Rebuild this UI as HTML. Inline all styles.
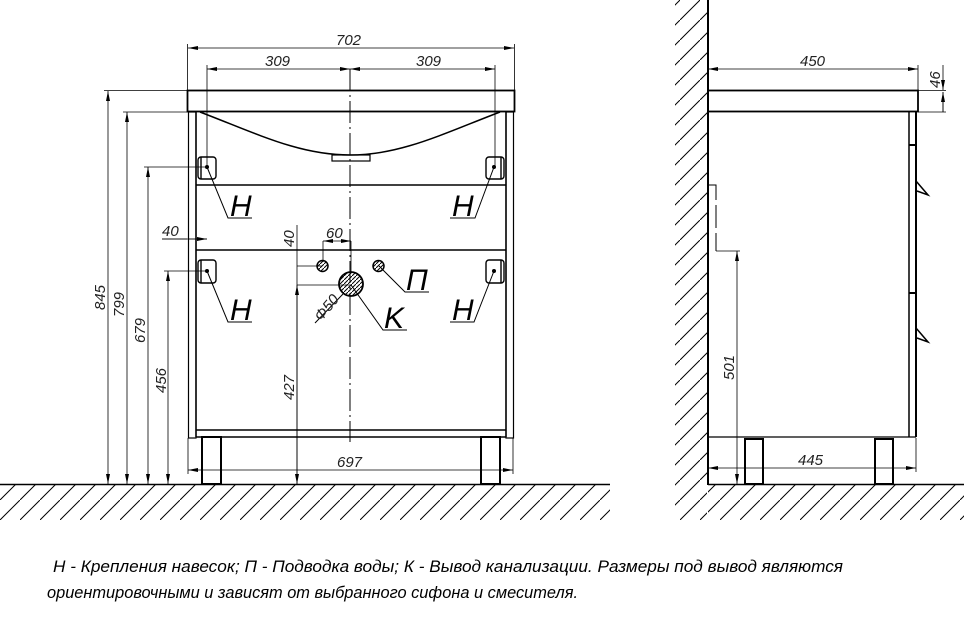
<!DOCTYPE html>
<html><head><meta charset="utf-8"><style>
html,body{margin:0;padding:0;background:#fff;width:964px;height:623px;overflow:hidden}
svg{display:block}
.t{font-family:"Liberation Sans",sans-serif;font-style:italic;font-size:15px;fill:#222}
.L{font-family:"Liberation Sans",sans-serif;font-style:italic;font-size:30px;fill:#000}
</style></head><body>
<svg width="964" height="623" viewBox="0 0 964 623" xmlns="http://www.w3.org/2000/svg">
<defs>
<pattern id="h" width="20" height="20" patternUnits="userSpaceOnUse">
<line x1="-2" y1="22" x2="22" y2="-2" stroke="#000" stroke-width="1"/>
</pattern>
<pattern id="hs" width="4" height="4" patternUnits="userSpaceOnUse">
<line x1="0" y1="4" x2="4" y2="0" stroke="#000" stroke-width="1"/>
</pattern>
<marker id="a" viewBox="0 0 10 4" refX="10" refY="2" markerWidth="10" markerHeight="4" orient="auto-start-reverse" markerUnits="userSpaceOnUse"><path d="M0,0 L10,2 L0,4z" fill="#000"/></marker>
</defs>
<g fill="none" stroke="#000">
<!-- floor hatch front -->
<rect x="0" y="485" width="610" height="35" fill="url(#h)" stroke="none"/>
<line x1="0" y1="484.5" x2="610" y2="484.5" stroke-width="1.5"/>
<!-- side floor + wall -->
<rect x="708" y="485" width="256" height="35" fill="url(#h)" stroke="none"/>
<rect x="675" y="0" width="32" height="520" fill="url(#h)" stroke="none"/>
<line x1="708" y1="484.5" x2="964" y2="484.5" stroke-width="1.5"/>
<line x1="708" y1="0" x2="708" y2="485" stroke-width="2"/>

<!-- FRONT VIEW -->
<rect x="187.5" y="90.5" width="327" height="21" stroke-width="1.8"/>
<rect x="188.5" y="112" width="7.5" height="326" stroke-width="1.2"/>
<rect x="506" y="112" width="7.5" height="326" stroke-width="1.2"/>
<line x1="196" y1="112" x2="196" y2="437" stroke-width="1.5"/>
<line x1="506" y1="112" x2="506" y2="437" stroke-width="1.5"/>
<line x1="196" y1="185" x2="506" y2="185" stroke-width="1.5"/>
<line x1="196" y1="250" x2="506" y2="250" stroke-width="1.5"/>
<line x1="196" y1="430" x2="506" y2="430" stroke-width="1.5"/>
<line x1="196" y1="437" x2="506" y2="437" stroke-width="1.5"/>
<path d="M200,112 C260,135 300,155 350,155 C400,155 440,135 500,112" stroke-width="1.5"/>
<rect x="332" y="155" width="38" height="6" stroke-width="1.2"/>
<rect x="202" y="437" width="19" height="47" stroke-width="2"/>
<rect x="481" y="437" width="19" height="47" stroke-width="2"/>
<!-- hangers -->
<g stroke-width="1.4">
<rect x="198" y="157" width="18" height="22" rx="3"/><line x1="201" y1="157" x2="201" y2="179"/>
<rect x="486" y="157" width="18" height="22" rx="3"/><line x1="501" y1="157" x2="501" y2="179"/>
<rect x="198" y="260" width="18" height="23" rx="3"/><line x1="201" y1="260" x2="201" y2="283"/>
<rect x="486" y="260" width="18" height="23" rx="3"/><line x1="501" y1="260" x2="501" y2="283"/>
</g>
<g fill="#000" stroke="none">
<circle cx="207" cy="167" r="2"/><circle cx="494" cy="167" r="2"/>
<circle cx="207" cy="271" r="2"/><circle cx="494" cy="271" r="2"/>
</g>
<g stroke-width="1">
<polyline points="207,167 228,218 252,218"/>
<polyline points="494,167 475,218 450,218"/>
<polyline points="207,271 228,322 252,322"/>
<polyline points="494,271 474,322 450,322"/>
<polyline points="379,266 405,292 429,292"/>
<polyline points="351,285 383,330 407,330"/>
<line x1="315" y1="323" x2="343" y2="294"/>
</g>
<!-- pipes -->
<circle cx="322.5" cy="266" r="5.5" fill="url(#hs)" stroke-width="1.5"/>
<circle cx="378.5" cy="266" r="5.5" fill="url(#hs)" stroke-width="1.5"/>
<circle cx="351" cy="284" r="12" fill="url(#hs)" stroke-width="1.8"/>
<!-- center line -->
<line x1="350" y1="69" x2="350" y2="442" stroke-width="1" stroke-dasharray="22,4,2,4"/>
<!-- dims front -->
<g stroke-width="0.8">
<line x1="187.5" y1="44" x2="187.5" y2="90"/><line x1="514.5" y1="44" x2="514.5" y2="90"/>
<line x1="188" y1="48" x2="514" y2="48" marker-start="url(#a)" marker-end="url(#a)"/>
<line x1="207" y1="65" x2="207" y2="167"/><line x1="495" y1="65" x2="495" y2="167"/>
<line x1="207" y1="69" x2="350" y2="69" marker-start="url(#a)" marker-end="url(#a)"/>
<line x1="350" y1="69" x2="495" y2="69" marker-start="url(#a)" marker-end="url(#a)"/>
<line x1="104" y1="90.5" x2="187" y2="90.5"/>
<line x1="108" y1="91" x2="108" y2="484" marker-start="url(#a)" marker-end="url(#a)"/>
<line x1="123" y1="112" x2="188" y2="112"/>
<line x1="127" y1="112" x2="127" y2="484" marker-start="url(#a)" marker-end="url(#a)"/>
<line x1="144" y1="167" x2="207" y2="167"/>
<line x1="148" y1="167" x2="148" y2="484" marker-start="url(#a)" marker-end="url(#a)"/>
<line x1="164" y1="271" x2="207" y2="271"/>
<line x1="168" y1="271" x2="168" y2="484" marker-start="url(#a)" marker-end="url(#a)"/>
<line x1="162" y1="239" x2="207" y2="239"/>
<line x1="188" y1="239" x2="207" y2="239" marker-end="url(#a)"/>
<line x1="162" y1="239" x2="187" y2="239"/>
<line x1="297" y1="225" x2="297" y2="484"/>
<line x1="297" y1="266" x2="322" y2="266"/>
<line x1="297" y1="285" x2="351" y2="285"/>
<line x1="297" y1="285" x2="297" y2="484" marker-start="url(#a)" marker-end="url(#a)"/>
<line x1="323" y1="241" x2="323" y2="262"/><line x1="351" y1="241" x2="351" y2="272"/>
<line x1="323" y1="241" x2="351" y2="241" marker-start="url(#a)" marker-end="url(#a)"/>
<line x1="188" y1="438" x2="188" y2="474"/><line x1="513" y1="438" x2="513" y2="474"/>
<line x1="188" y1="470" x2="513" y2="470" marker-start="url(#a)" marker-end="url(#a)"/>
</g>

<!-- SIDE VIEW -->
<rect x="708" y="90.5" width="210" height="21" stroke-width="1.8"/>
<line x1="708" y1="437" x2="916" y2="437" stroke-width="1.2"/>
<line x1="916" y1="112" x2="916" y2="437" stroke-width="2"/>
<line x1="909" y1="112" x2="909" y2="437" stroke-width="1.5"/>
<line x1="909" y1="145" x2="916" y2="145" stroke-width="2"/>
<line x1="909" y1="293" x2="916" y2="293" stroke-width="2"/>
<polyline points="916,181 928,195 917,191" stroke-width="1.5"/>
<polyline points="916,328 928,342 917,338" stroke-width="1.5"/>
<rect x="745" y="439" width="18" height="45" stroke-width="2"/>
<rect x="875" y="439" width="18" height="45" stroke-width="2"/>
<polyline points="709,185 716,185 716,200" stroke-width="1"/>
<line x1="716" y1="205" x2="716" y2="228" stroke-width="1"/>
<line x1="716" y1="233" x2="716" y2="251" stroke-width="1"/>
<g stroke-width="0.8">
<line x1="708" y1="69" x2="918" y2="69" marker-start="url(#a)" marker-end="url(#a)"/>
<line x1="918" y1="65" x2="918" y2="90"/>
<line x1="918" y1="90.5" x2="946" y2="90.5"/><line x1="918" y1="112" x2="946" y2="112"/>
<line x1="943" y1="65" x2="943" y2="90" marker-end="url(#a)"/>
<line x1="943" y1="112" x2="943" y2="92" />
<line x1="943" y1="92" x2="943" y2="112" marker-start="url(#a)"/>
<line x1="716" y1="251" x2="740" y2="251"/>
<line x1="737" y1="251" x2="737" y2="484" marker-start="url(#a)" marker-end="url(#a)"/>
<line x1="916" y1="438" x2="916" y2="472"/>
<line x1="708" y1="468" x2="916" y2="468" marker-start="url(#a)" marker-end="url(#a)"/>
</g>
</g>

<!-- dimension texts -->
<text class="t" x="336" y="45">702</text>
<text class="t" x="265" y="66">309</text>
<text class="t" x="416" y="66">309</text>
<text class="t" x="162" y="236">40</text>
<text class="t" x="326" y="238">60</text>
<text class="t" x="337" y="467">697</text>
<text class="t" transform="translate(105,310) rotate(-90)">845</text>
<text class="t" transform="translate(124,317) rotate(-90)">799</text>
<text class="t" transform="translate(145,343) rotate(-90)">679</text>
<text class="t" transform="translate(166,393) rotate(-90)">456</text>
<text class="t" transform="translate(294,400) rotate(-90)">427</text>
<text class="t" transform="translate(294,247) rotate(-90)">40</text>
<text class="t" transform="translate(321,322) rotate(-50)">Φ50</text>
<text class="t" x="800" y="66">450</text>
<text class="t" x="798" y="465">445</text>
<text class="t" transform="translate(940,88) rotate(-90)">46</text>
<text class="t" transform="translate(734,380) rotate(-90)">501</text>
<!-- letters -->
<text class="L" x="230" y="216">H</text>
<text class="L" x="452" y="216">H</text>
<text class="L" x="230" y="320">H</text>
<text class="L" x="452" y="320">H</text>
<text class="L" x="406" y="290">П</text>
<text class="L" x="384" y="328">K</text>
<!-- notes -->
<text font-family="Liberation Sans, sans-serif" font-style="italic" font-size="17" x="53" y="572" textLength="790" lengthAdjust="spacingAndGlyphs">Н - Крепления навесок; П - Подводка воды; К - Вывод канализации. Размеры под вывод являются</text>
<text font-family="Liberation Sans, sans-serif" font-style="italic" font-size="17" x="47" y="598" textLength="531" lengthAdjust="spacingAndGlyphs">ориентировочными и зависят от выбранного сифона и смесителя.</text>
</svg>
</body></html>
